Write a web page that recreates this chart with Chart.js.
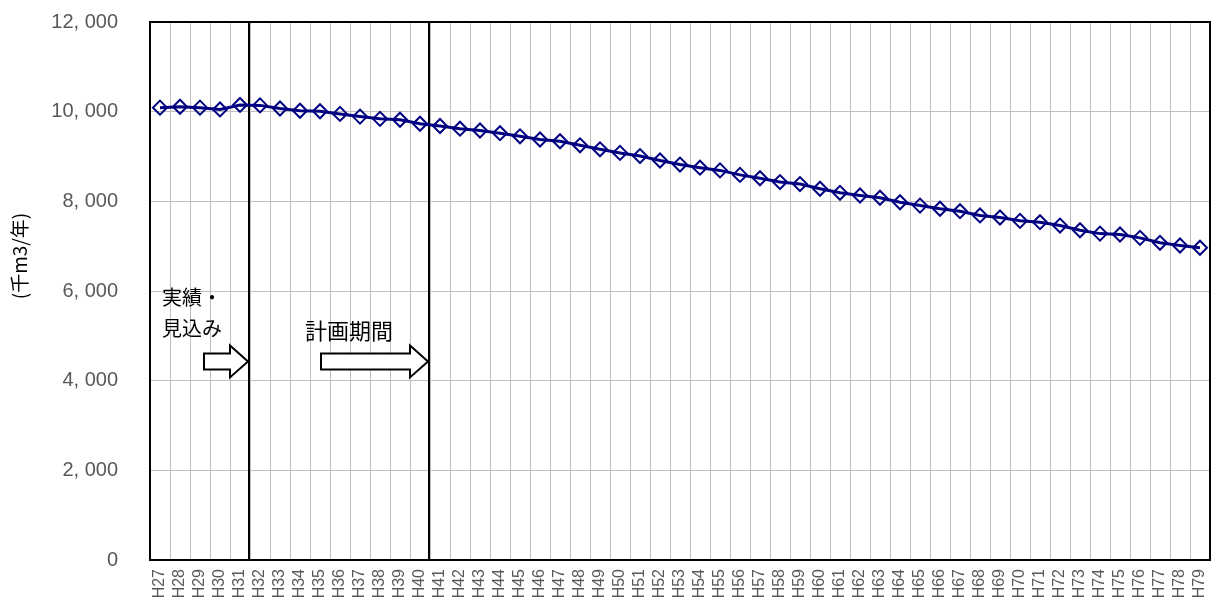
<!DOCTYPE html>
<html>
<head>
<meta charset="utf-8">
<script src="https://cdn.jsdelivr.net/npm/chart.js@4/dist/chart.umd.min.js"></script>
<style>
  html, body { margin: 0; padding: 0; background: #fff; }
  #wrap { width: 1219px; height: 604px; position: relative; }
</style>
</head>
<body>
<div id="wrap"><canvas id="volumeChart"></canvas></div>
<script>
// fiscal years (Heisei)
const years = ['H27','H28','H29','H30','H31','H32','H33','H34','H35','H36','H37','H38','H39','H40',
  'H41','H42','H43','H44','H45','H46','H47','H48','H49','H50','H51','H52','H53','H54','H55','H56',
  'H57','H58','H59','H60','H61','H62','H63','H64','H65','H66','H67','H68','H69','H70','H71','H72',
  'H73','H74','H75','H76','H77','H78','H79'];

// annual volume (thousand m3 / year)
const volumes = [10090, 10110, 10090, 10050, 10150, 10140, 10070, 10020, 10010, 9950, 9890, 9840, 9820, 9730,
  9680, 9620, 9580, 9520, 9450, 9380, 9340, 9250, 9160, 9080, 9010, 8910, 8820, 8750, 8690, 8590,
  8515, 8430, 8385, 8280, 8190, 8130, 8080, 7980, 7905, 7835, 7780, 7685, 7640, 7565, 7535, 7460,
  7355, 7280, 7260, 7185, 7075, 7015, 6965];

const yTicks = [0, 2000, 4000, 6000, 8000, 10000, 12000];

// period boundaries (line drawn after these years)
const actualEnd = 'H31';
const planEnd = 'H40';

const jpFont = '"Noto Sans CJK JP", sans-serif';

// draws the black frame and the two period lines
const periodLines = {
    id: 'periodLines',
    beforeDatasetsDraw(chart) {
        const { ctx, chartArea: a, scales: { x } } = chart;
        ctx.save();
        ctx.strokeStyle = '#000';
        ctx.lineWidth = 2;
        [actualEnd, planEnd].forEach(label => {
            const i = years.indexOf(label);
            const px = Math.round((x.getPixelForValue(i) + x.getPixelForValue(i + 1)) / 2) - 1;
            ctx.beginPath();
            ctx.moveTo(px, a.top);
            ctx.lineTo(px, a.bottom);
            ctx.stroke();
        });
        ctx.strokeRect(a.left, a.top, a.right - a.left, a.bottom - a.top);
        ctx.restore();
    },
    afterDraw(chart) {
        const { ctx, chartArea: a, scales: { x, y } } = chart;
        const boundary = label => {
            const i = years.indexOf(label);
            return (x.getPixelForValue(i) + x.getPixelForValue(i + 1)) / 2 - 1;
        };

        // hollow block arrow
        function arrow(x0, x1, cy) {
            const body = 8, head = 16, headLen = 18;
            ctx.beginPath();
            ctx.moveTo(x0, cy - body);
            ctx.lineTo(x1 - headLen, cy - body);
            ctx.lineTo(x1 - headLen, cy - head);
            ctx.lineTo(x1, cy);
            ctx.lineTo(x1 - headLen, cy + head);
            ctx.lineTo(x1 - headLen, cy + body);
            ctx.lineTo(x0, cy + body);
            ctx.closePath();
            ctx.fillStyle = '#fff';
            ctx.fill();
            ctx.strokeStyle = '#000';
            ctx.lineWidth = 2;
            ctx.stroke();
        }

        ctx.save();
        const cy = y.getPixelForValue(4430);
        const b1 = boundary(actualEnd);
        const b2 = boundary(planEnd);
        arrow(b1 - 45, b1 - 1, cy);
        arrow(x.getPixelForValue(8) + 1, b2 - 1, cy);

        ctx.fillStyle = '#000';
        ctx.textBaseline = 'middle';
        ctx.textAlign = 'left';
        ctx.font = '20px ' + jpFont;
        ctx.fillText('実績・', a.left + 12, y.getPixelForValue(5860));
        ctx.fillText('見込み', a.left + 12, y.getPixelForValue(5160));
        ctx.font = '22px ' + jpFont;
        ctx.fillText('計画期間', x.getPixelForValue(7) + 5, y.getPixelForValue(5110));

        // y axis title
        ctx.translate(20, 256);
        ctx.rotate(-Math.PI / 2);
        ctx.textAlign = 'center';
        ctx.font = '19px ' + jpFont;
        ctx.fillText('(千m3/年)', 0, 0);
        ctx.restore();
    }
};

new Chart(document.getElementById('volumeChart'), {
    type: 'line',
    data: {
        labels: years,
        datasets: [{
            data: volumes,
            borderColor: '#000080',
            borderWidth: 3,
            backgroundColor: '#fff',
            pointStyle: 'rectRot',
            pointRadius: 7,
            pointBorderWidth: 2,
            pointBorderColor: '#000080',
            pointBackgroundColor: 'rgba(255,255,255,0)',
            tension: 0
        }]
    },
    options: {
        responsive: true,
        maintainAspectRatio: false,
        animation: false,
        layout: { padding: { top: 22, right: 9, left: 0, bottom: 0 } },
        plugins: {
            legend: { display: false },
            tooltip: { enabled: false }
        },
        scales: {
            x: {
                offset: true,
                grid: { color: '#bfbfbf', lineWidth: 1, offset: true, drawTicks: false },
                border: { display: false },
                ticks: {
                    autoSkip: false,
                    minRotation: 90,
                    maxRotation: 90,
                    padding: 9,
                    color: '#595959',
                    font: { family: '"Liberation Sans", sans-serif', size: 16 }
                },
                afterFit(scale) {
                    scale.height = 44;
                    scale.paddingLeft = 0;
                    scale.paddingRight = 0;
                }
            },
            y: {
                min: 0,
                max: 12000,
                afterBuildTicks(scale) { scale.ticks = yTicks.map(v => ({ value: v })); },
                grid: { color: '#bfbfbf', lineWidth: 1, drawTicks: false },
                border: { display: false },
                ticks: {
                    padding: 32,
                    color: '#595959',
                    font: { family: '"Liberation Sans", sans-serif', size: 20 },
                    callback: v => v.toLocaleString('en-US').replace(',', ', ')
                },
                afterFit(scale) {
                    scale.width = 150;
                    scale.paddingTop = 0;
                    scale.paddingBottom = 0;
                }
            }
        }
    },
    plugins: [periodLines]
});
</script>
</body>
</html>
